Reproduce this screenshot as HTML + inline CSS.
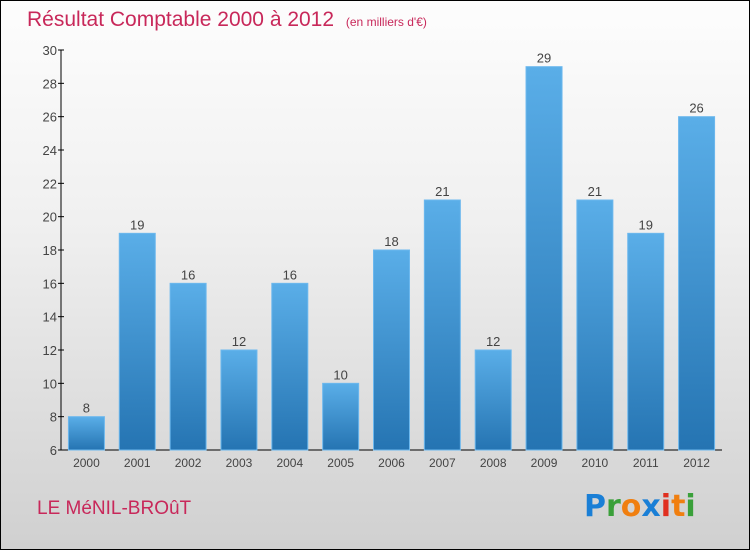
<!DOCTYPE html>
<html><head><meta charset="utf-8"><style>
body{margin:0}
#wrap{position:relative;width:748px;height:548px;border:1px solid #000;background:linear-gradient(#fdfdfd,#f0f0f0 40%,#d0d0d0);font-family:"Liberation Sans",sans-serif;overflow:hidden}
</style></head><body>
<div id="wrap">
<svg id="chart" width="748" height="548">
<defs><linearGradient id="bg" x1="0" y1="0" x2="0" y2="1"><stop offset="0" stop-color="#5aaee8"/><stop offset="1" stop-color="#2574b2"/></linearGradient></defs>
<text x="26" y="25" font-size="21" fill="#c8285a" font-weight="300">Résultat Comptable 2000 à 2012 <tspan font-size="12" dx="6">(en milliers d'€)</tspan></text>
<text x="36" y="513" font-size="19" fill="#c8285a">LE MéNIL-BROûT</text>
<g font-size="30" font-weight="bold" font-family="'DejaVu Sans',sans-serif">
<text x="583" y="515"><tspan fill="#1a7fd6">P</tspan><tspan fill="#3aa03a">r</tspan><tspan fill="#f07f10">o</tspan><tspan fill="#1a7fd6">x</tspan><tspan fill="#e03020">i</tspan><tspan fill="#f07f10">t</tspan><tspan fill="#3aa03a">i</tspan></text></g>
<g id="plot"></g>
</svg></div>
<script>
const categories=["2000","2001","2002","2003","2004","2005","2006","2007","2008","2009","2010","2011","2012"];
const values=[8,19,16,12,16,10,18,21,12,29,21,19,26];
const yTicks=[6,8,10,12,14,16,18,20,22,24,26,28,30];
const NS="http://www.w3.org/2000/svg";
const plotG=document.getElementById('plot');
const yMin=6,yMax=30,plotTop=49,plotBot=449,plotX0=60,plotX1=721;
const yScale=v=>plotBot-(v-yMin)/(yMax-yMin)*(plotBot-plotTop);
const step=(plotX1-plotX0)/categories.length;
const xc=i=>plotX0+step*(i+0.5);
function mk(t,a){const e=document.createElementNS(NS,t);for(const k in a)e.setAttribute(k,a[k]);plotG.appendChild(e);return e;}
let ax=mk('line',{x1:plotX0,y1:plotTop,x2:plotX0,y2:plotBot,stroke:'#000'});


ax=mk('line',{x1:plotX0,y1:plotBot,x2:plotX1,y2:plotBot,stroke:'#000'});


yTicks.forEach(t=>{
 const l=mk('line',{x1:plotX0-3,x2:plotX0+3,y1:yScale(t),y2:yScale(t),stroke:'#000'});
 
 
 const tx=mk('text',{x:plotX0-4,y:yScale(t)+5,'text-anchor':'end','font-size':13,fill:'#444'});
 tx.textContent=t;
 
 
});
categories.forEach((c,i)=>{
 const v=values[i],w=36;
 const r=mk('rect',{x:xc(i)-w/2,y:yScale(v),width:w,height:plotBot-yScale(v),fill:'url(#bg)',stroke:'#6cb8ee','stroke-width':1});
 
 
 const vl=mk('text',{x:xc(i),y:yScale(v)-4,'text-anchor':'middle','font-size':13,fill:'#444'});
 vl.textContent=v;
 
 
 const xl=mk('text',{x:xc(i),y:plotBot+17,'text-anchor':'middle','font-size':12,fill:'#444'});
 xl.textContent=c;
 
 
});
</script>
</body></html>
